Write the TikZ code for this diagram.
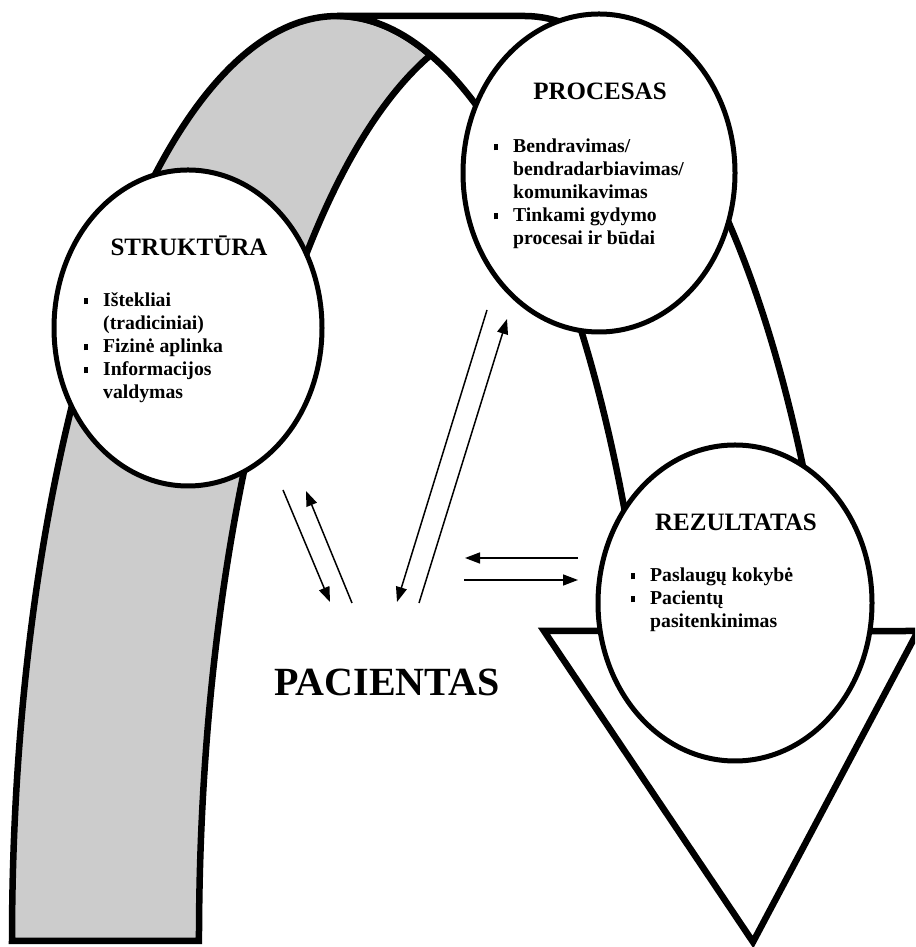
\documentclass[tikz,border=0pt]{standalone}
\usepackage{fontspec}
\setmainfont{Liberation Serif}[BoldFont={Liberation Serif Bold}]
\usetikzlibrary{shapes.geometric,arrows.meta}
\definecolor{bandgrey}{HTML}{CCCCCC}
\tikzset{
  band/.style={line width=6.5pt, line join=miter, draw=black},
  ell/.style={ellipse, draw=black, line width=5pt, fill=white, inner sep=0pt},
  head/.style={font=\fontsize{25}{30}\selectfont\bfseries, anchor=base, inner sep=0pt},
  item/.style={font=\fontsize{19.7}{23}\selectfont\bfseries, anchor=base west, inner sep=0pt},
  bigtext/.style={font=\fontsize{40}{48}\selectfont\bfseries, anchor=base, inner sep=0pt},
  arr/.style={line width=1.5pt, -{Triangle[length=15pt,width=11pt]}},
}
\newcommand{\mybul}{\makebox[19pt][l]{\rule[2.7pt]{3.8pt}{5.8pt}}}
\newcommand{\nobul}{\hspace*{19pt}}
\begin{document}
\begin{tikzpicture}[x=1pt,y=1pt]
\useasboundingbox (0,0) rectangle (915,947);
\clip (0,0) rectangle (915,947);
% grey back part of the curved arrow
\path[band, fill=bandgrey] (12,6)
  arc[start angle=180,end angle=73.28,x radius=325,y radius=925]
  arc[start angle=106.72,end angle=180,x radius=325,y radius=925] -- cycle;
% white front part with arrowhead
\path[band, fill=white] (544,316) -- (643.2,316)
  arc[start angle=19.58,end angle=90,x radius=325,y radius=925]
  -- (524,931)
  arc[start angle=90,end angle=19.58,x radius=325,y radius=925]
  -- (918,316) -- (753,5) -- cycle;
% ellipses
\node[ell, minimum width=268pt, minimum height=316pt] (struk) at (188,619) {};
\node[ell, minimum width=272pt, minimum height=318pt] (proc) at (599,774) {};
\node[ell, minimum width=274pt, minimum height=316pt] (rez) at (735,344) {};
% STRUKTURA text
\node[head] (strukT) at (189,691) {STRUKTŪRA};
\node[item] (s1) at (84,640) {\mybul Ištekliai};
\node[item] (s2) at (84,617) {\nobul (tradiciniai)};
\node[item] (s3) at (84,594) {\mybul Fizinė aplinka};
\node[item] (s4) at (84,571) {\mybul Informacijos};
\node[item] (s5) at (84,548) {\nobul valdymas};
% PROCESAS text
\node[head] (procT) at (600,847) {PROCESAS};
\node[item] (p1) at (494,794) {\mybul Bendravimas/};
\node[item] (p2) at (494,771) {\nobul bendradarbiavimas/};
\node[item] (p3) at (494,748) {\nobul komunikavimas};
\node[item] (p4) at (494,725) {\mybul Tinkami gydymo};
\node[item] (p5) at (494,702) {\nobul procesai ir būdai};
% REZULTATAS text
\node[head] (rezT) at (736,416) {REZULTATAS};
\node[item] (r1) at (631,365) {\mybul Paslaugų kokybė};
\node[item] (r2) at (631,342) {\mybul Pacientų};
\node[item] (r3) at (631,319) {\nobul pasitenkinimas};
% PACIENTAS
\node[bigtext] (pac) at (387,251) {PACIENTAS};
% connector end points
\coordinate (a1s) at (283,457);
\coordinate (a1e) at (330,345);
\coordinate (a2s) at (352,344);
\coordinate (a2e) at (306,456);
\coordinate (a3s) at (487,637);
\coordinate (a3e) at (397,345);
\coordinate (a4s) at (419,344);
\coordinate (a4e) at (507,628);
\coordinate (a5s) at (578,389);
\coordinate (a5e) at (465,389);
\coordinate (a6s) at (464,367);
\coordinate (a6e) at (578,367);
\draw[arr] (a1s) -- (a1e);
\draw[arr] (a2s) -- (a2e);
\draw[arr] (a3s) -- (a3e);
\draw[arr] (a4s) -- (a4e);
\draw[arr] (a5s) -- (a5e);
\draw[arr] (a6s) -- (a6e);
\end{tikzpicture}
\end{document}
